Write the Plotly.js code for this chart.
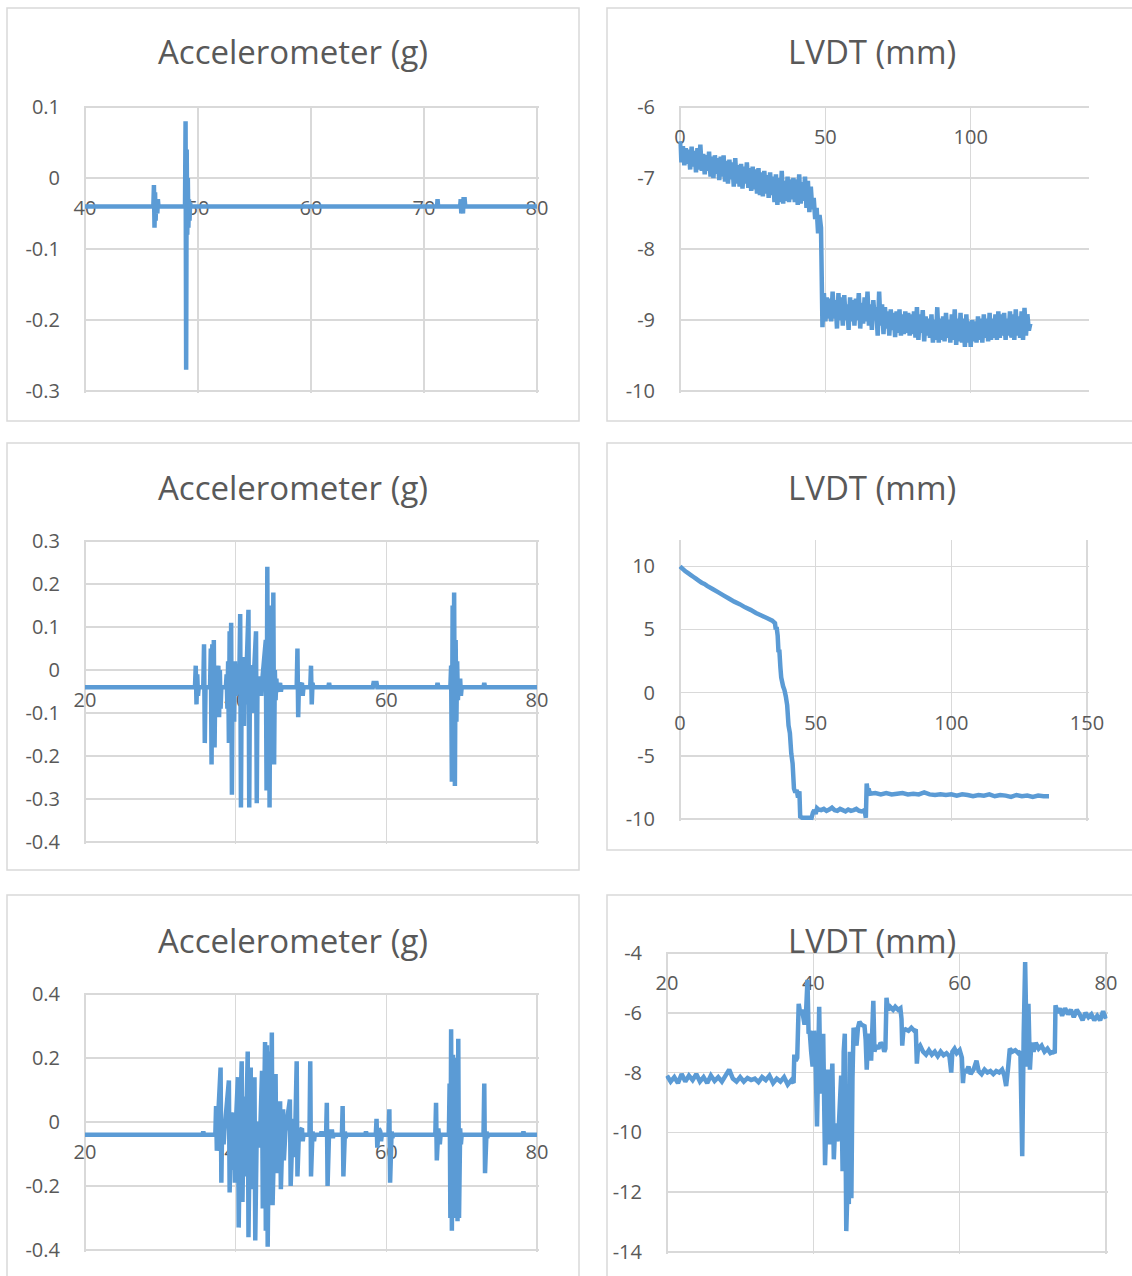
<!DOCTYPE html>
<html>
<head>
<meta charset="utf-8">
<script src="https://cdn.plot.ly/plotly-3.0.1.min.js"></script>
<style>
html,body{margin:0;padding:0;background:#fff;}
#chart{width:1132px;height:1276px;}
</style>
</head>
<body>
<div id="chart"></div>
<script>
// ---------------- DATA ----------------
// Panel 1: Accelerometer (g), time axis 40-80
const acc1X = [40, 46.05,46.1,46.15,46.2,46.25,46.3,46.4,46.45,46.5,
  48.85,48.9,48.95,49.0,49.05,49.1,49.15,49.2,49.25,49.3,49.35,
  71.15,71.2,71.25,
  73.2,73.25,73.3,73.35,73.45,73.5,73.6,73.65, 80];
const acc1Y = [-0.04, -0.04,-0.01,-0.07,-0.02,-0.06,-0.03,-0.05,-0.03,-0.04,
  -0.04,0.08,-0.27,0.04,-0.08,0.0,-0.07,-0.03,-0.06,-0.035,-0.04,
  -0.04,-0.03,-0.04,
  -0.04,-0.03,-0.05,-0.03,-0.05,-0.03,-0.03,-0.04, -0.04];

// Panel 2: LVDT (mm), sampled from x = 0 every 0.5
const lvdt1X0 = 0;
const lvdt1Dx = 0.5;
const lvdt1Y = [
  -6.48,-6.78,-6.55,-6.82,-6.58,-6.8,-6.6,-6.88,-6.56,-6.84,-6.62,-6.92,-6.58,-6.88,-6.53,-6.9,-6.66,-6.95,-6.68,-6.9,
  -6.63,-6.98,-6.7,-7.0,-6.68,-6.94,-6.72,-7.03,-6.7,-6.98,-6.68,-7.05,-6.76,-7.08,-6.74,-7.02,-6.78,-7.12,-6.72,-7.08,
  -6.82,-7.12,-6.8,-7.15,-6.84,-7.08,-6.78,-7.14,-6.86,-7.18,-6.84,-7.16,-6.88,-7.22,-6.86,-7.24,-6.92,-7.26,-6.9,-7.22,
  -6.96,-7.28,-6.92,-7.24,-6.98,-7.34,-6.95,-7.38,-7.0,-7.34,-6.9,-7.36,-7.04,-7.32,-6.98,-7.34,-7.02,-7.3,-7.0,-7.34,
  -7.02,-7.38,-6.95,-7.36,-7.06,-7.32,-6.98,-7.42,-7.04,-7.48,-7.12,-7.44,-7.28,-7.58,-7.42,-7.78,-7.52,-7.7,-9.1,-8.62,
  -9.02,-8.68,-8.98,-8.7,-9.02,-8.6,-8.98,-8.72,-9.12,-8.62,-9.0,-8.68,-9.08,-8.65,-9.0,-8.78,-9.14,-8.68,-9.02,-8.72,
  -9.08,-8.7,-9.0,-8.62,-9.12,-8.76,-9.05,-8.68,-9.02,-8.6,-9.08,-8.78,-9.14,-8.72,-9.0,-8.82,-9.22,-8.6,-9.08,-8.78,
  -9.2,-8.82,-9.12,-8.88,-9.22,-8.85,-9.14,-8.9,-9.24,-8.88,-9.18,-8.85,-9.22,-8.92,-9.2,-8.88,-9.18,-8.9,-9.22,-8.92,
  -9.2,-8.88,-9.25,-8.82,-9.28,-8.92,-9.18,-8.86,-9.3,-8.95,-9.22,-8.98,-9.25,-8.92,-9.32,-9.0,-9.28,-8.82,-9.32,-8.98,
  -9.28,-8.95,-9.3,-8.9,-9.25,-9.0,-9.32,-8.92,-9.28,-8.85,-9.35,-8.98,-9.3,-8.9,-9.32,-8.98,-9.38,-8.92,-9.32,-9.02,
  -9.38,-9.0,-9.3,-9.02,-9.32,-8.95,-9.28,-8.98,-9.32,-8.92,-9.25,-8.98,-9.3,-8.9,-9.28,-8.98,-9.25,-8.92,-9.28,-8.88,
  -9.25,-8.92,-9.22,-8.9,-9.28,-8.98,-9.22,-8.88,-9.25,-8.92,-9.28,-8.85,-9.22,-8.95,-9.25,-8.88,-9.28,-8.83,-9.22,-8.92,
  -9.15,-9.05];

// Panel 3: Accelerometer (g), time axis 20-80
const acc2X = [20, 34.6,34.7,34.8,34.9,35.0,35.1,
  35.7,35.8,35.9,36.0,
  36.6,36.7,36.8,36.9,37.0,37.1,37.2,37.3,
  37.7,37.8,37.9,38.0,38.1,
  38.7,38.8,38.9,39.0,39.1,39.2,39.3,39.4,39.5,39.6,39.8,39.9,40.0,
  40.5,40.6,40.7,40.8,
  41.0,41.1,41.2,41.3,
  41.7,41.8,41.9,
  42.2,42.3,42.4,
  42.7,42.8,42.9,
  43.3,43.4,43.5,
  44.0,44.1,44.2,44.3,44.4,44.5,44.6,44.7,44.8,44.9,45.0,45.1,45.2,45.3,45.4,45.5,
  45.9,46.0,46.1,
  48.1,48.2,48.3,48.4,48.5,
  48.8,48.9,49.0,
  49.9,50.0,50.1,50.2,50.3,
  52.3,52.4,52.5,
  58.2,58.3,58.5,58.7,58.8,
  66.7,66.8,66.9,
  68.5,68.6,68.7,68.8,68.9,69.0,69.1,69.2,69.3,69.4,69.5,69.6,
  69.8,69.9,70.0,
  72.9,73.0,73.1,80];
const acc2Y = [-0.04, -0.04,0.01,-0.08,-0.01,-0.06,-0.04,
  -0.04,0.06,-0.17,-0.04,
  -0.04,0.05,-0.22,0.06,-0.14,0.07,-0.18,-0.02,
  0.01,-0.11,0.0,-0.09,-0.04,
  -0.04,-0.01,-0.09,0.02,-0.17,0.09,-0.1,0.11,-0.29,0.0,-0.12,0.02,-0.06,
  0.0,0.13,-0.32,-0.02,
  0.03,-0.13,0.02,-0.08,
  0.14,-0.32,0.0,
  0.01,-0.1,-0.02,
  0.09,-0.31,-0.02,
  -0.02,-0.06,-0.03,
  0.07,-0.28,0.24,-0.26,0.15,-0.32,0.1,-0.2,0.14,-0.21,0.18,-0.22,0.0,-0.07,-0.02,-0.05,
  -0.03,-0.05,-0.04,
  -0.04,0.05,-0.11,-0.03,-0.04,
  -0.03,-0.06,-0.04,
  -0.04,0.01,-0.08,-0.03,-0.04,
  -0.04,-0.03,-0.04,
  -0.04,-0.03,-0.03,-0.03,-0.04,
  -0.04,-0.03,-0.04,
  -0.04,0.01,-0.26,0.15,-0.25,0.18,-0.27,0.07,-0.12,0.02,-0.07,-0.03,
  -0.02,-0.06,-0.04,
  -0.04,-0.03,-0.04,-0.04];

// Panel 4: LVDT (mm), time axis 0-150
const lvdt2X = [0,1,2,3,4,5,6,7,8,9,10,12,14,16,18,20,22,24,26,28,30,32,34,
  34.5,35,35.3,35.6,36,36.3,36.6,37,37.3,37.6,38,38.5,39,39.5,40,40.5,41,41.5,42,42.5,43,43.5,44,44.3,
  45,46,47,48,48.5,49,49.5,50,50.5,
  51,52,53,54,55,56,57,58,59,60,61,62,63,64,65,66,67,68,
  68.5,68.8,69.2,69.5,
  70,72,74,76,78,80,82,84,86,88,90,92,94,96,98,100,102,104,106,108,110,112,114,116,118,120,122,124,126,128,130,132,134,136];
const lvdt2Y = [10.0,9.8,9.6,9.45,9.3,9.15,9.0,8.85,8.7,8.6,8.45,8.2,7.95,7.7,7.45,7.2,7.0,6.75,6.55,6.3,6.1,5.9,5.7,
  5.6,5.5,5.0,5.2,4.5,3.2,3.4,2.0,1.2,0.9,0.5,0.2,-0.3,-1.0,-2.6,-3.2,-4.8,-5.6,-7.6,-7.9,-7.7,-8.3,-7.8,-9.8,
  -9.9,-9.9,-9.9,-9.88,-9.9,-9.5,-9.3,-9.6,-9.15,
  -9.25,-9.3,-9.2,-9.35,-9.25,-9.1,-9.3,-9.35,-9.2,-9.3,-9.4,-9.25,-9.35,-9.3,-9.2,-9.35,-9.4,-9.3,
  -9.9,-7.2,-7.9,-7.6,
  -8.0,-7.95,-8.05,-7.95,-8.05,-8.0,-7.95,-8.05,-8.0,-8.05,-7.9,-8.05,-8.1,-8.05,-8.1,-8.05,-8.15,-8.05,-8.1,-8.2,-8.1,-8.15,-8.05,-8.2,-8.1,-8.15,-8.25,-8.1,-8.2,-8.15,-8.25,-8.15,-8.2,-8.2];

// Panel 5: Accelerometer (g), time axis 20-80
const acc3X = [20, 35.6,35.7,35.8,
  37.3,37.4,37.5,37.6,
  38.0,38.1,38.2,38.4,38.5,
  39.1,39.2,39.4,39.5,39.8,39.9,40.0,
  40.3,40.4,40.6,40.8,40.9,41.1,41.2,41.4,
  41.6,41.7,41.9,42.0,42.1,42.5,42.6,42.8,
  43.1,43.2,43.5,43.6,43.9,44.0,44.15,44.25,44.5,44.6,44.8,44.9,45.3,45.4,45.6,
  45.9,46.0,46.3,46.4,46.6,
  47.2,47.3,47.6,47.7,47.9,
  48.1,48.2,48.4,
  48.8,48.9,49.0,
  49.8,49.9,50.0,50.2,50.4,50.5,
  51.3,51.4,51.5,
  52.0,52.1,52.2,52.4,52.8,52.9,53.0,
  54.1,54.2,54.3,54.5,54.6,54.7,
  57.2,57.3,57.4,
  58.6,58.7,58.8,59.0,59.2,59.3,59.4,
  60.3,60.4,60.5,60.7,60.8,60.9,
  66.5,66.6,66.7,66.9,67.1,67.2,
  68.3,68.4,68.5,68.6,68.7,68.85,68.95,69.1,69.2,69.35,69.45,69.55,69.65,69.8,69.9,70.0,
  72.9,73.0,73.1,73.3,73.4,73.5,
  78.1,78.2,78.3,80];
const acc3Y = [-0.04, -0.04,-0.03,-0.04,
  -0.04,0.05,-0.09,-0.02,
  0.17,-0.19,-0.02,-0.07,-0.03,
  0.13,-0.22,0.03,-0.15,0.03,-0.19,-0.02,
  0.14,-0.33,0.0,0.19,-0.25,0.08,-0.17,-0.02,
  0.22,-0.36,0.02,0.17,-0.21,0.14,-0.37,-0.02,
  0.0,-0.08,0.16,-0.27,0.25,-0.34,0.24,-0.39,0.22,-0.23,0.28,-0.26,0.15,-0.16,-0.02,
  0.065,-0.21,0.04,-0.12,-0.03,
  0.07,-0.2,0.01,-0.11,-0.04,
  0.19,-0.17,-0.03,
  -0.02,-0.06,-0.04,
  -0.04,0.19,-0.17,-0.03,-0.06,-0.04,
  -0.04,-0.03,-0.04,
  -0.04,0.06,-0.2,-0.03,-0.03,-0.05,-0.04,
  -0.04,0.05,-0.17,-0.03,-0.05,-0.04,
  -0.04,-0.03,-0.04,
  -0.04,0.01,-0.08,-0.02,-0.03,-0.06,-0.04,
  -0.04,0.04,-0.19,-0.03,-0.05,-0.04,
  -0.04,0.06,-0.12,-0.02,-0.07,-0.04,
  -0.04,0.12,-0.30,0.29,-0.34,0.21,-0.30,0.16,-0.25,0.2,-0.31,0.26,-0.30,-0.02,-0.07,-0.04,
  -0.04,0.12,-0.16,-0.03,-0.05,-0.04,
  -0.04,-0.03,-0.04,-0.04];

// Panel 6: LVDT (mm), time axis 20-80
const lvdt3X = [20,20.5,21,21.5,22,22.5,23,23.5,24,24.5,25,25.5,26,26.5,27,27.5,28,28.5,29,29.5,
  30,30.5,31,31.5,32,32.5,33,33.5,34,34.5,35,35.5,36,36.5,37,37.3,
  37.4,37.6,37.8,38.0,38.2,38.4,38.6,38.8,39.0,39.2,
  39.35,39.5,39.7,39.9,40.1,40.3,40.5,40.6,40.8,41.0,
  41.2,41.35,41.6,41.8,42.0,42.2,42.4,42.6,42.8,43.0,
  43.3,43.5,43.8,44.0,44.15,44.3,44.5,44.7,44.85,45.0,
  45.2,45.35,45.5,45.7,45.9,46.1,46.3,46.6,47.0,47.15,
  47.3,47.5,47.7,47.9,48.2,48.35,48.6,48.9,49.2,49.5,
  49.7,49.85,50.0,50.2,50.5,50.9,51.2,51.6,51.9,52.05,
  52.15,52.3,52.6,53.0,53.4,53.8,54.0,54.15,54.3,54.6,
  55.0,55.4,55.8,56.2,56.6,57.0,57.4,57.8,58.2,58.6,
  58.85,59.0,59.3,59.6,60.0,60.3,60.45,60.6,60.9,61.2,
  61.5,61.9,62.3,62.6,63.0,63.4,63.8,64.2,64.6,65.0,
  65.4,65.8,66.1,66.35,66.6,66.85,67.2,67.6,68.0,68.3,
  68.55,68.75,68.95,69.2,69.4,69.6,69.8,70.1,70.4,70.8,
  71.2,71.6,72.0,72.4,72.8,73.0,73.1,73.4,73.7,74.0,
  74.4,74.8,75.2,75.6,76.0,76.4,76.8,77.2,77.6,78.0,
  78.4,78.8,79.2,79.6,80.0];
const lvdt3Y = [-8.1,-8.3,-8.15,-8.35,-8.05,-8.3,-8.1,-8.25,-8.05,-8.3,-8.15,-8.35,-8.1,-8.28,-8.15,-8.3,-8.1,-7.9,-8.2,-8.3,
  -8.15,-8.3,-8.18,-8.25,-8.2,-8.32,-8.15,-8.25,-8.1,-8.35,-8.2,-8.3,-8.15,-8.4,-8.25,-8.35,
  -7.4,-7.6,-7.5,-5.7,-6.0,-5.9,-6.1,-6.4,-6.0,-4.9,
  -6.7,-6.6,-7.3,-7.8,-6.6,-7.5,-9.8,-8.5,-5.8,-8.7,
  -8.0,-6.7,-11.1,-9.4,-7.9,-10.4,-8.8,-7.7,-10.9,-9.7,
  -10.3,-9.7,-8.1,-11.3,-7.3,-6.7,-13.3,-11.6,-12.4,-7.3,
  -12.2,-8.2,-6.5,-6.7,-7.1,-6.5,-6.3,-6.4,-6.45,-6.9,
  -7.9,-6.7,-7.0,-7.6,-5.6,-7.3,-7.1,-7.2,-7.0,-7.1,
  -7.3,-7.2,-5.5,-5.9,-5.8,-5.9,-5.8,-5.9,-5.85,-6.2,
  -7.1,-6.6,-6.55,-6.6,-6.5,-6.6,-6.55,-7.7,-7.2,-7.1,
  -7.3,-7.4,-7.25,-7.4,-7.3,-7.45,-7.3,-7.42,-7.35,-7.45,
  -8.0,-7.3,-7.2,-7.35,-7.25,-7.5,-8.35,-7.9,-8.0,-7.8,
  -8.05,-7.9,-7.6,-7.95,-8.05,-7.9,-8.0,-7.95,-8.05,-7.95,
  -8.0,-7.9,-8.1,-8.45,-7.9,-7.2,-7.3,-7.25,-7.35,-7.3,
  -10.8,-6.7,-4.3,-7.8,-5.7,-7.9,-7.0,-7.3,-7.0,-7.2,
  -7.1,-7.3,-7.2,-7.35,-7.3,-7.35,-5.75,-6.0,-5.85,-6.1,
  -5.85,-6.05,-5.9,-6.15,-5.9,-6.05,-6.25,-6.0,-6.15,-6.05,
  -6.25,-6.1,-6.25,-5.95,-6.2];

// Tick labels
const acc1XTicks = [40, 50, 60, 70, 80];
const acc1YTicks = [0.1, 0, -0.1, -0.2, -0.3];
const acc1YText  = ['0.1', '0', '-0.1', '-0.2', '-0.3'];
const lvdt1XTicks = [0, 50, 100];
const lvdt1YTicks = [-6, -7, -8, -9, -10];
const lvdt1YText  = ['-6', '-7', '-8', '-9', '-10'];
const acc2XTicks = [20, 40, 60, 80];
const acc2YTicks = [0.3, 0.2, 0.1, 0, -0.1, -0.2, -0.3, -0.4];
const acc2YText  = ['0.3', '0.2', '0.1', '0', '-0.1', '-0.2', '-0.3', '-0.4'];
const lvdt2XTicks = [0, 50, 100, 150];
const lvdt2YTicks = [10, 5, 0, -5, -10];
const lvdt2YText  = ['10', '5', '0', '-5', '-10'];
const acc3XTicks = [20, 40, 60, 80];
const acc3YTicks = [0.4, 0.2, 0, -0.2, -0.4];
const acc3YText  = ['0.4', '0.2', '0', '-0.2', '-0.4'];
const lvdt3XTicks = [20, 40, 60, 80];
const lvdt3YTicks = [-4, -6, -8, -10, -12, -14];
const lvdt3YText  = ['-4', '-6', '-8', '-10', '-12', '-14'];

const accTitle = 'Accelerometer (g)';
const lvdtTitle = 'LVDT (mm)';

// ---------------- LAYOUT ----------------
const W = 1132, H = 1276;
const FONT = '"Open Sans", "Liberation Sans", sans-serif';
const TXT = '#595959';
const GRID = '#d9d9d9';
const LINE = '#5b9bd5';
const EDGE = 1.5; // px added around each plot area so edge gridlines are not dropped

const panels = [
  {box:[85,107,537,391],  xr:[40,80],  yr:[-0.3,0.1], cross:0,  xt:acc1XTicks,  yt:acc1YTicks,  ytt:acc1YText,  title:accTitle,  tx:293, ty:52,  border:[7,8,579,421],
   trace:{x:acc1X, y:acc1Y}},
  {box:[680,107,1087,391], xr:[0,140], yr:[-10,-6],  cross:-6, xt:lvdt1XTicks, yt:lvdt1YTicks, ytt:lvdt1YText, title:lvdtTitle, tx:872, ty:52,  border:[607,8,1145,421],
   trace:{x0:lvdt1X0, dx:lvdt1Dx, y:lvdt1Y}},
  {box:[85,541,537,842],  xr:[20,80],  yr:[-0.4,0.3], cross:0,  xt:acc2XTicks,  yt:acc2YTicks,  ytt:acc2YText,  title:accTitle,  tx:293, ty:487, border:[7,443,579,870],
   trace:{x:acc2X, y:acc2Y}},
  {box:[680,541,1087,819], xr:[0,150], yr:[-10,12],  cross:0,  xt:lvdt2XTicks, yt:lvdt2YTicks, ytt:lvdt2YText, title:lvdtTitle, tx:872, ty:487, border:[607,443,1145,850],
   trace:{x:lvdt2X, y:lvdt2Y}},
  {box:[85,994,537,1250], xr:[20,80],  yr:[-0.4,0.4], cross:0,  xt:acc3XTicks,  yt:acc3YTicks,  ytt:acc3YText,  title:accTitle,  tx:293, ty:940, border:[7,895,579,1300],
   trace:{x:acc3X, y:acc3Y}},
  {box:[667,953,1106,1252], xr:[20,80], yr:[-14,-4], cross:-4, xt:lvdt3XTicks, yt:lvdt3YTicks, ytt:lvdt3YText, title:lvdtTitle, tx:872, ty:940, border:[607,895,1145,1300],
   trace:{x:lvdt3X, y:lvdt3Y}}
];

const layout = {
  width: W, height: H, autosize: false,
  margin: {l:0, r:0, t:0, b:0, pad:0},
  paper_bgcolor: '#ffffff', plot_bgcolor: 'rgba(0,0,0,0)',
  showlegend: false,
  font: {family: FONT, color: TXT},
  shapes: [], annotations: []
};
const data = [];

panels.forEach((p, i) => {
  const n = i + 1;
  const xk = n === 1 ? 'xaxis' : 'xaxis' + n;
  const yk = n === 1 ? 'yaxis' : 'yaxis' + n;
  const xr = n === 1 ? 'x' : 'x' + n;
  const yr = n === 1 ? 'y' : 'y' + n;
  const [x0, y0, x1, y1] = p.box;
  // unit per pixel, used to grow domain and range together (keeps the mapping exact)
  const ux = (p.xr[1] - p.xr[0]) / (x1 - x0);
  const uy = (p.yr[1] - p.yr[0]) / (y1 - y0);
  const xRange = [p.xr[0] - EDGE * ux, p.xr[1] + EDGE * ux];
  const yRange = [p.yr[0] - EDGE * uy, p.yr[1] + EDGE * uy];
  const dx0 = (x0 - EDGE) / W, dx1 = (x1 + EDGE) / W;
  const dy0 = 1 - (y1 + EDGE) / H, dy1 = 1 - (y0 - EDGE) / H;
  const crossFrac = 1 - (y1 - (p.cross - p.yr[0]) / uy) / H;
  layout[xk] = {
    domain: [dx0, dx1], range: xRange, anchor: 'free', position: crossFrac,
    tickmode: 'array', tickvals: p.xt, ticktext: p.xt.map(String),
    showgrid: true, gridcolor: GRID, gridwidth: 1.5, zeroline: false, showline: false,
    ticks: 'outside', ticklen: 12, tickcolor: 'rgba(0,0,0,0)',
    tickfont: {family: FONT, size: 20, color: TXT}, layer: 'below traces', fixedrange: true
  };
  layout[yk] = {
    domain: [dy0, dy1], range: yRange, anchor: 'free', position: dx0, side: 'left',
    tickmode: 'array', tickvals: p.yt, ticktext: p.ytt,
    showgrid: true, gridcolor: GRID, gridwidth: 1.5, zeroline: false, showline: false,
    ticks: 'outside', ticklen: 21 - EDGE, tickcolor: 'rgba(0,0,0,0)',
    tickfont: {family: FONT, size: 20, color: TXT}, layer: 'below traces', fixedrange: true
  };
  const [bx0, by0, bx1, by1] = p.border;
  layout.shapes.push({
    type: 'rect', xref: 'paper', yref: 'paper', layer: 'below',
    x0: bx0 / W, x1: bx1 / W, y0: 1 - by1 / H, y1: 1 - by0 / H,
    line: {color: GRID, width: 1.5}, fillcolor: 'rgba(0,0,0,0)'
  });
  layout.annotations.push({
    xref: 'paper', yref: 'paper', x: p.tx / W, y: 1 - p.ty / H,
    xanchor: 'center', yanchor: 'middle', showarrow: false,
    text: p.title, font: {family: FONT, size: 33, color: TXT}
  });
  data.push(Object.assign({
    type: 'scatter', mode: 'lines', xaxis: xr, yaxis: yr,
    line: {color: LINE, width: 4.5, simplify: false}, hoverinfo: 'skip'
  }, p.trace));
});

Plotly.newPlot('chart', data, layout, {staticPlot: true, displayModeBar: false});
</script>
</body>
</html>
